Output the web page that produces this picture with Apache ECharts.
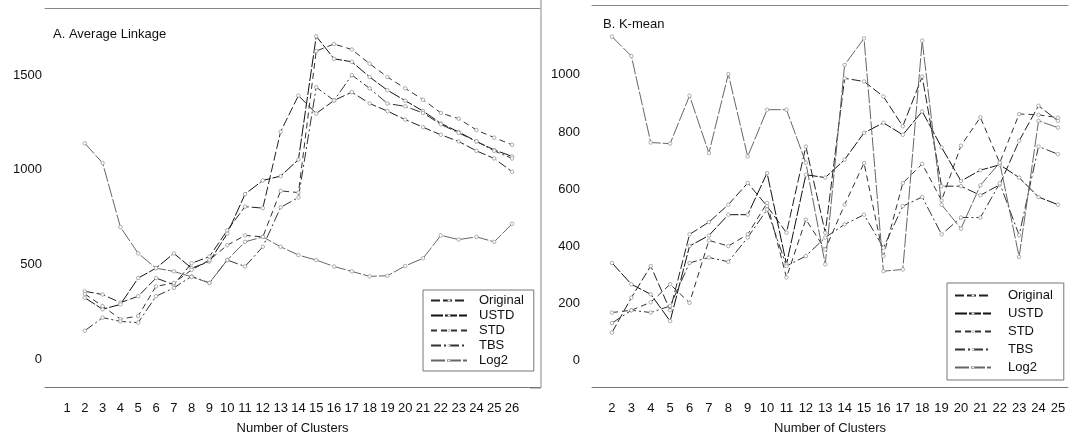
<!DOCTYPE html>
<html>
<head>
<meta charset="utf-8">
<script src="https://cdn.jsdelivr.net/npm/echarts@6/dist/echarts.min.js"></script>
<style>
  html, body { margin: 0; padding: 0; background: #fff; }
  #chart { width: 1070px; height: 440px; }
</style>
</head>
<body>
<div id="chart"></div>
<script>
// Panel A: Average Linkage, clusters 1..26 (no value at 1)
const clustersA = [1,2,3,4,5,6,7,8,9,10,11,12,13,14,15,16,17,18,19,20,21,22,23,24,25,26];
const originalA = [null,359,342,299,333,429,394,507,542,680,806,798,1201,1392,1297,1366,1410,1350,1310,1265,1225,1185,1150,1100,1060,990];
const ustdA     = [null,325,264,290,429,481,559,481,516,663,872,944,967,1054,1705,1586,1570,1490,1420,1365,1310,1245,1200,1150,1105,1071];
const stdA      = [null,345,281,212,229,385,403,472,524,602,654,646,889,880,1627,1664,1635,1560,1490,1430,1370,1300,1270,1210,1170,1132];
const tbsA      = [null,151,220,200,194,333,377,438,403,524,490,594,802,854,1436,1366,1500,1430,1350,1335,1300,1240,1195,1150,1100,1060];
const log2A     = [null,1140,1036,698,559,481,464,435,403,524,620,646,594,550,524,490,464,438,441,493,533,654,632,646,620,715];
const yTicksA = [0, 500, 1000, 1500];

// Panel B: K-mean, clusters 2..25
const clustersB = [2,3,4,5,6,7,8,9,10,11,12,13,14,15,16,17,18,19,20,21,22,23,24,25];
const originalB = [97,219,330,175,441,484,545,621,540,447,749,447,988,977,924,820,994,610,610,578,615,769,892,839];
const ustdB     = [341,266,231,137,400,437,510,510,656,336,650,640,703,797,832,790,872,746,628,666,685,640,572,545];
const stdB      = [167,175,203,266,201,420,400,441,551,290,493,388,545,691,365,621,688,560,752,851,692,863,860,850];
const tbsB      = [130,175,167,190,341,360,345,430,528,330,365,430,476,510,394,540,572,441,500,500,620,438,749,722];
const log2B     = [1134,1066,763,759,927,726,1003,714,878,878,692,336,1035,1128,312,318,1120,545,461,613,692,362,839,815];
const yTicksB = [0, 200, 400, 600, 800, 1000];

const seriesNames = ['Original', 'USTD', 'STD', 'TBS', 'Log2'];
const FONT = 'Liberation Sans, Arial, sans-serif';

// line look for each normalisation method
const looks = {
  'Original': { color: '#222', dash: [9, 3] },
  'USTD':     { color: '#111', dash: [12, 2] },
  'STD':      { color: '#333', dash: [6, 4] },
  'TBS':      { color: '#333', dash: [10, 3, 2, 3] },
  'Log2':     { color: '#666', dash: [14, 2] }
};

function pairs(xs, ys) {
  return xs.map((x, i) => [x, ys[i]]);
}

function makeSeries(name, xs, ys, idx) {
  const lk = looks[name];
  return {
    name: name,
    type: 'line',
    xAxisIndex: idx,
    yAxisIndex: idx,
    data: pairs(xs, ys),
    connectNulls: false,
    symbol: 'circle',
    symbolSize: 3.5,
    showSymbol: true,
    color: lk.color,
    itemStyle: { color: '#fff', borderColor: '#999', borderWidth: 0.8 },
    lineStyle: { color: lk.color, width: 1, type: lk.dash },
    animation: false,
    z: 3
  };
}

const seriesA = [originalA, ustdA, stdA, tbsA, log2A];
const seriesB = [originalB, ustdB, stdB, tbsB, log2B];

const series = [];
seriesNames.forEach((n, i) => series.push(makeSeries(n, clustersA, seriesA[i], 0)));
seriesNames.forEach((n, i) => series.push(makeSeries(n, clustersB, seriesB[i], 1)));

const labelStyle = { color: '#111', fontFamily: FONT, fontSize: 13 };

function xAxisBottom(grid, min, max, ticks) {
  return {
    type: 'value', gridIndex: grid, min: min, max: max,
    position: 'bottom',
    axisLine: { show: true, onZero: false, lineStyle: { color: '#777', width: 1 } },
    axisTick: { show: false },
    splitLine: { show: false },
    axisLabel: Object.assign({ customValues: ticks, margin: 15, formatter: v => String(v) }, labelStyle),
    name: 'Number of Clusters',
    nameLocation: 'middle',
    nameGap: 35,
    nameTextStyle: { color: '#111', fontFamily: FONT, fontSize: 13 }
  };
}
function xAxisTop(grid, min, max) {
  return {
    type: 'value', gridIndex: grid, min: min, max: max,
    position: 'top',
    axisLine: { show: true, onZero: false, lineStyle: { color: '#888', width: 1 } },
    axisTick: { show: false }, axisLabel: { show: false }, splitLine: { show: false }
  };
}
function yAxis(grid, min, max, ticks, margin) {
  return {
    type: 'value', gridIndex: grid, min: min, max: max,
    axisLine: { show: false }, axisTick: { show: false }, splitLine: { show: false },
    axisLabel: Object.assign({ customValues: ticks, margin: margin, formatter: v => String(v) }, labelStyle)
  };
}

function legendAt(left, top, gap, textPad, rightPad, vPad) {
  return {
    data: seriesNames,
    orient: 'vertical',
    left: left, top: top,
    backgroundColor: '#fff',
    borderColor: '#777', borderWidth: 1, borderRadius: 0,
    padding: [vPad, rightPad, vPad, 7],
    itemGap: gap,
    itemWidth: 36, itemHeight: 3,
    selectedMode: false,
    itemStyle: { color: '#fff', borderColor: '#999', borderWidth: 0.6 },
    textStyle: { color: '#111', fontFamily: FONT, fontSize: 13, padding: [0, 0, 0, textPad] }
  };
}

const chart = echarts.init(document.getElementById('chart'), null, { renderer: 'canvas' });
chart.setOption({
  backgroundColor: '#fff',
  animation: false,
  grid: [
    { left: 45, top: 8, width: 495, height: 384 },
    { left: 592, top: 5, width: 476, height: 383 }
  ],
  xAxis: [
    xAxisBottom(0, -0.236, 27.57, clustersA),
    xAxisBottom(1, 0.97, 25.52, clustersB),
    xAxisTop(0, -0.236, 27.57),
    xAxisTop(1, 0.97, 25.52)
  ],
  yAxis: [
    yAxis(0, -146, 1854, yTicksA, 3),
    yAxis(1, -94, 1245, yTicksB, 12)
  ],
  legend: [legendAt(423, 290, 2, 7, 10, 4), legendAt(947, 283, 5, 12, 11, 6)],
  title: [
    { text: 'A. Average Linkage', left: 48, top: 23,
      textStyle: { color: '#111', fontFamily: FONT, fontSize: 13, fontWeight: 'normal' } },
    { text: 'B. K-mean', left: 598, top: 13,
      textStyle: { color: '#111', fontFamily: FONT, fontSize: 13, fontWeight: 'normal' } }
  ],
  graphic: [
    { type: 'line', shape: { x1: 541, y1: 0, x2: 541, y2: 388 },
      style: { stroke: '#888', lineWidth: 1 } },
    { type: 'line', shape: { x1: 530, y1: 388, x2: 541, y2: 388 },
      style: { stroke: '#888', lineWidth: 1 } }
  ],
  series: series
});
</script>
</body>
</html>
